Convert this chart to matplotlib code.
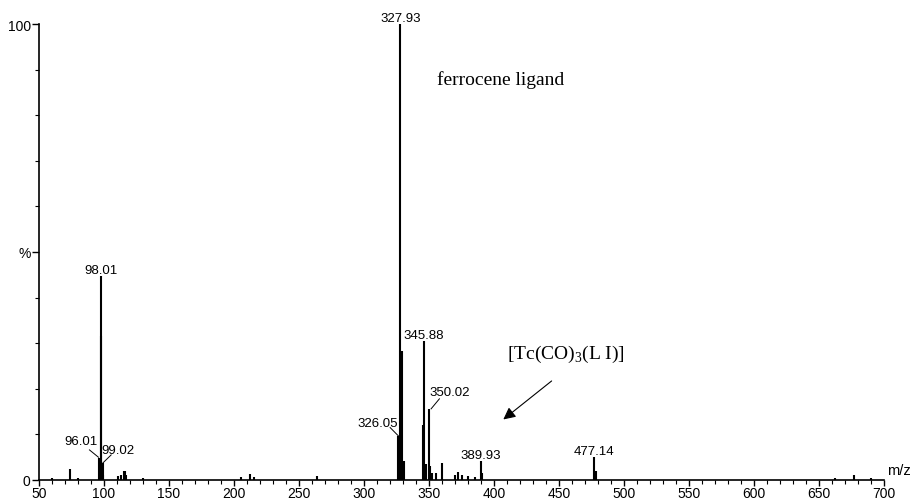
import matplotlib
matplotlib.use("Agg")
import matplotlib.pyplot as plt
from matplotlib.ticker import MultipleLocator

# peak list (m/z, relative intensity %)
mz = [60, 73.9, 80, 96.01, 97.5, 98.01, 99.02, 99.6, 111, 113, 115, 116, 117, 130,
      205, 212, 215, 263.5, 326.05, 326.6, 327.93, 329.2, 331.0, 345.3, 345.88,
      348.0, 350.02, 351.0, 352.5, 355.0, 360.3, 370.0, 372.0, 375.0, 380.0, 385.0,
      389.93, 391.0, 477.14, 478.2, 662, 677, 690]
intensity = [0.4, 2.4, 0.5, 4.8, 31.6, 44.8, 3.7, 1.2, 0.8, 1.0, 2.0, 2.0, 1.2, 0.4,
             0.6, 1.3, 0.7, 0.8, 9.6, 7.0, 100.0, 28.2, 4.2, 12.0, 30.5,
             3.4, 15.6, 3.0, 1.5, 1.5, 3.7, 1.2, 1.8, 1.0, 0.8, 0.6,
             4.2, 1.5, 5.0, 2.0, 0.4, 1.0, 0.5]

# labelled peaks: text, peak m/z, peak height
top_labels = [("98.01", 98.01, 44.8), ("327.93", 327.93, 100.0),
              ("345.88", 345.88, 30.5), ("389.93", 389.93, 4.2),
              ("477.14", 477.14, 5.0)]
# labels with leader lines: text, text pos, line start, line end
side_labels = [("96.01", (82.6, 8.5), (88.8, 6.6), (95.7, 5.0)),
               ("99.02", (111.1, 6.6), (105.5, 5.5), (99.0, 3.7)),
               ("326.05", (310.3, 12.5), (320.1, 11.5), (326.7, 9.6)),
               ("350.02", (365.7, 19.3), (358.0, 17.8), (351.6, 15.6))]

x_ticks = [50, 100, 150, 200, 250, 300, 350, 400, 450, 500, 550, 600, 650, 700]
y_ticks = [0, 50, 100]
y_tick_labels = ["0", "%", "100"]

sans = "Liberation Sans"
serif = "Liberation Serif"

fig = plt.figure(figsize=(9.18, 5.02), dpi=100)
ax = fig.add_axes([39 / 918, 21 / 502, 845 / 918, 456 / 502])

ax.vlines(mz, 0, intensity, colors="black", lw=1.5)

for txt, x, y in top_labels:
    ax.text(x, y, txt, ha="center", va="bottom", fontsize=9.5, family=sans)

for txt, tpos, p0, p1 in side_labels:
    ax.text(tpos[0], tpos[1], txt, ha="center", va="center", fontsize=9.5, family=sans)
    ax.plot([p0[0], p1[0]], [p0[1], p1[1]], color="black", lw=0.7)

ax.text(356.5, 88.0, "ferrocene ligand", fontsize=14, family=serif, va="center")
ax.text(410.3, 27.8, r"[Tc(CO)$_\mathregular{3}$(L I)]", fontsize=14,
        family=serif, va="center")
ax.annotate("", xy=(405.5, 12.9), xytext=(446, 22.1),
            arrowprops=dict(arrowstyle="-|>", color="black", lw=0.8,
                            mutation_scale=18))

ax.text(702.6, 0.6, "m/z", fontsize=10.5, family=sans, va="bottom", ha="left")

ax.set_xlim(50, 700)
ax.set_ylim(0, 100)
ax.spines["top"].set_visible(False)
ax.spines["right"].set_visible(False)
ax.spines["left"].set_linewidth(1.2)
ax.spines["bottom"].set_linewidth(1.2)

ax.set_xticks(x_ticks)
ax.xaxis.set_minor_locator(MultipleLocator(10))
ax.set_yticks(y_ticks)
ax.set_yticklabels(y_tick_labels)
ax.yaxis.set_minor_locator(MultipleLocator(10))
ax.tick_params(which="major", direction="out", length=5, width=1, labelsize=10, pad=1)
ax.tick_params(axis="x", which="major", length=4, pad=0)
ax.tick_params(which="minor", direction="out", length=3, width=0.8)
for lab in ax.get_xticklabels() + ax.get_yticklabels():
    lab.set_family(sans)

fig.savefig("out.png", dpi=100)
